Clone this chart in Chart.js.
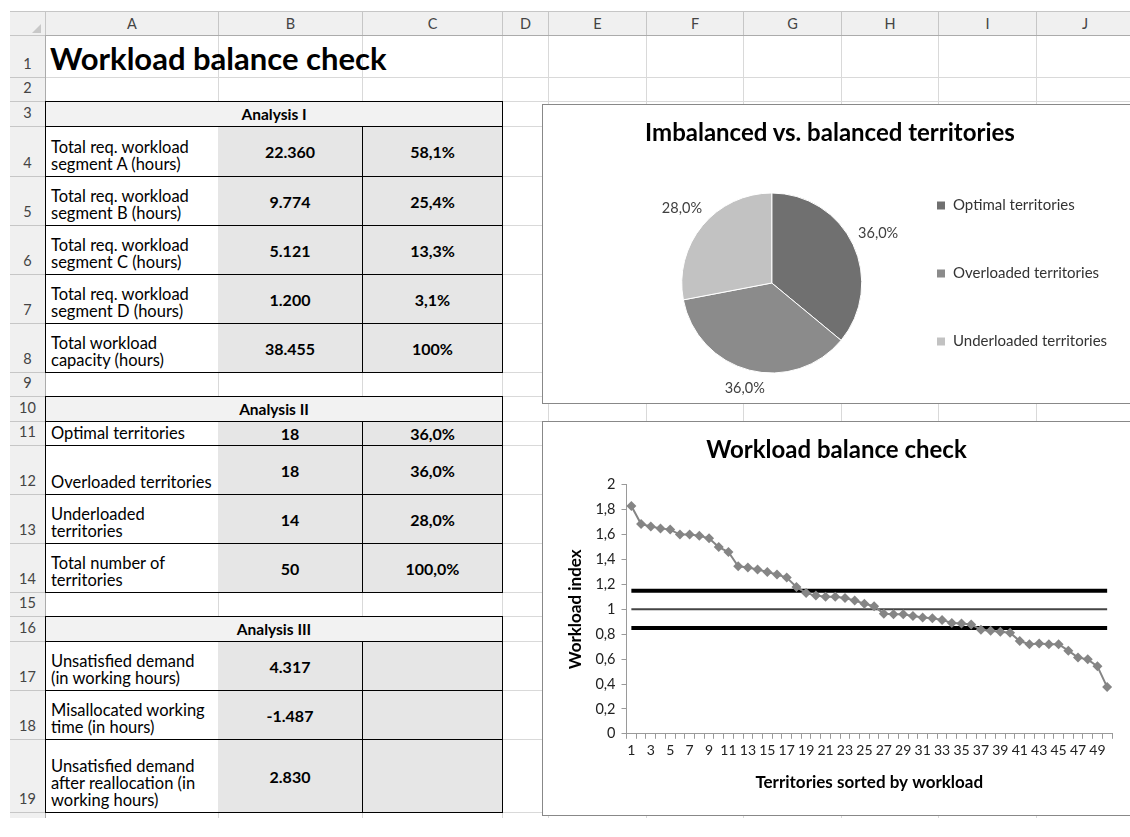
<!DOCTYPE html>
<html>
<head>
<meta charset="utf-8">
<title>Workload balance check</title>
<script src="https://cdn.jsdelivr.net/npm/chart.js@4.4.1/dist/chart.umd.min.js"></script>
<style>
  body { margin: 0; background: #fff; font-family: Lato, "Noto Sans", sans-serif; }
  #sheet { position: absolute; left: 0; top: 0; width: 1130px; height: 818px; overflow: hidden; }
  .c { position: absolute; box-sizing: border-box; white-space: nowrap; }
  .hdr { color: #444; font-size: 14.5px; display: flex; justify-content: center; }
  .txt { font-size: 16.5px; line-height: 17px; padding: 0 0 3px 5px; display: flex; flex-direction: column; justify-content: flex-end; background: #fff; }
  .val { font-size: 16px; font-weight: bold; display: flex; align-items: center; justify-content: center; background: #e6e6e6; }
  .sec { font-size: 15.5px; font-weight: bold; display: flex; align-items: center; justify-content: center; background: #f2f2f2; border: 1px solid #000; }
  .chartbox { position: absolute; background: #fff; border: 1px solid #888; box-sizing: border-box; }
</style>
</head>
<body>
<div id="sheet"></div>
<script>
// chart data
const pieLabels = ["Optimal territories", "Overloaded territories", "Underloaded territories"];
const pieCounts = [18, 18, 14];
const pieColors = ["#707070", "#8b8b8b", "#c2c2c2"];

const territories = ["1","2","3","4","5","6","7","8","9","10","11","12","13","14","15","16","17","18","19","20",
  "21","22","23","24","25","26","27","28","29","30","31","32","33","34","35","36","37","38","39","40",
  "41","42","43","44","45","46","47","48","49","50"];
const workloadIndex = [1.83, 1.685, 1.665, 1.65, 1.64, 1.60, 1.60, 1.59, 1.57, 1.50,
  1.46, 1.345, 1.335, 1.32, 1.30, 1.28, 1.255, 1.18, 1.13, 1.11,
  1.10, 1.10, 1.09, 1.07, 1.045, 1.025, 0.965, 0.96, 0.96, 0.947,
  0.935, 0.928, 0.915, 0.89, 0.885, 0.878, 0.835, 0.827, 0.82, 0.812,
  0.745, 0.72, 0.725, 0.72, 0.72, 0.668, 0.613, 0.598, 0.542, 0.375];
const upperLimit = 1.15;
const target = 1;
const lowerLimit = 0.85;

// sheet contents
const sheetTitle = "Workload balance check";
const sections = [[3, "Analysis I"], [10, "Analysis II"], [16, "Analysis III"]];
const tableRows = [
  [4, "Total req. workload<br>segment A (hours)", "22.360", "58,1%"],
  [5, "Total req. workload<br>segment B (hours)", "9.774", "25,4%"],
  [6, "Total req. workload<br>segment C (hours)", "5.121", "13,3%"],
  [7, "Total req. workload<br>segment D (hours)", "1.200", "3,1%"],
  [8, "Total workload<br>capacity (hours)", "38.455", "100%"],
  [11, "Optimal territories", "18", "36,0%"],
  [12, "Overloaded territories", "18", "36,0%"],
  [13, "Underloaded<br>territories", "14", "28,0%"],
  [14, "Total number of<br>territories", "50", "100,0%"],
  [17, "Unsatisfied demand<br>(in working hours)", "4.317", ""],
  [18, "Misallocated working<br>time (in hours)", "-1.487", ""],
  [19, "Unsatisfied demand<br>after reallocation (in<br>working hours)", "2.830", ""]
];

const colNames = ["A", "B", "C", "D", "E", "F", "G", "H", "I", "J"];
const colEdges = [10, 45, 218, 362, 502, 548, 646, 743, 841, 938, 1036, 1133];
const rowEdges = [11, 35, 77, 101, 126, 176, 225, 274, 323, 372, 396, 421, 445, 494, 543, 592, 616, 641, 690, 739, 812, 840];

const sheet = document.getElementById("sheet");
function box(x, y, w, h, cls, css, html) {
  const d = document.createElement("div");
  d.className = "c " + (cls || "");
  Object.assign(d.style, { left: x + "px", top: y + "px", width: w + "px", height: h + "px" }, css || {});
  if (html !== undefined) d.innerHTML = html;
  sheet.appendChild(d);
  return d;
}

// gridlines
for (let i = 1; i < colEdges.length; i++) box(colEdges[i], rowEdges[1], 1, 837, "", { background: "#d9d9d9" });
for (let r = 2; r < rowEdges.length; r++) box(colEdges[1], rowEdges[r], 1130, 1, "", { background: "#d9d9d9" });

// column headers
box(colEdges[0], rowEdges[0], 1130, rowEdges[1] - rowEdges[0], "", { background: "#f0f0f0" });
colNames.forEach((n, i) => {
  box(colEdges[i + 1], rowEdges[0], colEdges[i + 2] - colEdges[i + 1], rowEdges[1] - rowEdges[0], "hdr",
    { alignItems: "center", borderLeft: "1px solid #c6c6c6" }, n);
});
box(colEdges[0], rowEdges[0], 1130, 1, "", { background: "#c6c6c6" });
box(colEdges[0], rowEdges[1], 1130, 1, "", { background: "#ababab" });
box(colEdges[1] - 13, rowEdges[1] - 11, 0, 0, "", { borderLeft: "9px solid transparent", borderBottom: "9px solid #c8c8c8" });

// row headers
box(colEdges[0], rowEdges[1], colEdges[1] - colEdges[0], 837, "", { background: "#f0f0f0" });
for (let r = 1; r < rowEdges.length - 1; r++) {
  box(colEdges[0], rowEdges[r], colEdges[1] - colEdges[0], rowEdges[r + 1] - rowEdges[r], "hdr",
    { alignItems: "flex-end", paddingBottom: "5px", borderTop: "1px solid #c6c6c6" }, String(r));
}
box(colEdges[1], rowEdges[1], 1, 837, "", { background: "#ababab" });

// title row
box(colEdges[1] + 5, rowEdges[1], 450, rowEdges[2] - rowEdges[1], "",
  { fontSize: "31px", fontWeight: "bold", display: "flex", alignItems: "flex-end", paddingBottom: "0" }, sheetTitle);

// tables
const tblLeft = colEdges[1], tblRight = colEdges[4];
sections.forEach(([r, t]) => {
  box(tblLeft, rowEdges[r], tblRight - tblLeft + 1, rowEdges[r + 1] - rowEdges[r] + 1, "sec", {}, t);
});
tableRows.forEach(([r, label, v1, v2]) => {
  const y = rowEdges[r], h = rowEdges[r + 1] - rowEdges[r] + 1;
  box(colEdges[1], y, colEdges[2] - colEdges[1], h, "txt",
    { borderLeft: "1px solid #000", borderTop: "1px solid #000", borderBottom: "1px solid #000" }, "<div>" + label + "</div>");
  box(colEdges[2], y, colEdges[3] - colEdges[2] + 1, h, "val",
    { borderTop: "1px solid #000", borderBottom: "1px solid #000", borderRight: "1px solid #000" }, v1);
  box(colEdges[3], y, colEdges[4] - colEdges[3] + 1, h, "val",
    { border: "1px solid #000" }, v2);
});

// chart boxes
function chartBox(x, y, w, h) {
  const d = document.createElement("div");
  d.className = "chartbox";
  Object.assign(d.style, { left: x + "px", top: y + "px", width: w + "px", height: h + "px" });
  const cv = document.createElement("canvas");
  d.appendChild(cv);
  sheet.appendChild(d);
  return [d, cv];
}

// pie chart: canvas is taller than its box so the legend has room for three rows
const [pieBox, pieCanvas] = chartBox(542, 104, 592, 300);
pieCanvas.width = 590; pieCanvas.height = 380;
Object.assign(pieCanvas.style, { position: "absolute", left: "0", top: "-40px" });
const pieTitle = document.createElement("div");
Object.assign(pieTitle.style, { position: "absolute", left: "0", top: "12px", width: "574px", textAlign: "center",
  fontSize: "24px", lineHeight: "29px", fontWeight: "bold" });
pieTitle.textContent = "Imbalanced vs. balanced territories";
pieBox.appendChild(pieTitle);

const pieTotal = pieCounts.reduce((a, b) => a + b, 0);
const pieLabelPlugin = {
  id: "pieLabels",
  afterDatasetsDraw(chart) {
    const ctx = chart.ctx;
    ctx.save();
    ctx.font = "14.5px Lato";
    ctx.fillStyle = "#404040";
    ctx.textBaseline = "middle";
    ctx.textAlign = "center";
    chart.getDatasetMeta(0).data.forEach((arc, i) => {
      const p = arc.getProps(["x", "y", "startAngle", "endAngle", "outerRadius"], true);
      const txt = (pieCounts[i] / pieTotal * 100).toFixed(1).replace(".", ",") + "%";
      const mid = (p.startAngle + p.endAngle) / 2;
      const c = Math.cos(mid), s = Math.sin(mid);
      const w = ctx.measureText(txt).width;
      const r = p.outerRadius + 6 + Math.abs(c) * w / 2 + Math.abs(s) * 8;
      ctx.fillText(txt, p.x + c * r, p.y + s * r);
    });
    ctx.restore();
  }
};

new Chart(pieCanvas, {
  type: "pie",
  data: {
    labels: pieLabels,
    datasets: [{ data: pieCounts, backgroundColor: pieColors, borderColor: "#ffffff", borderWidth: 1, radius: 90 }]
  },
  options: {
    responsive: false,
    animation: false,
    layout: { padding: { left: 117, right: 26, top: 80, bottom: 24 } },
    plugins: {
      legend: {
        position: "right",
        align: "start",
        labels: { boxWidth: 9, boxHeight: 9, padding: 53, color: "#333", font: { family: "Lato", size: 15 } }
      },
      tooltip: { enabled: false }
    }
  },
  plugins: [pieLabelPlugin]
});

const [lineBox, lineCanvas] = chartBox(542, 421, 592, 395);
lineCanvas.width = 590; lineCanvas.height = 393;

const fmt = (v) => String(Math.round(v * 10) / 10).replace(".", ",");
const axisGrid = { drawOnChartArea: false, drawTicks: true, tickLength: 5, color: "#9a9a9a" };

new Chart(lineCanvas, {
  type: "line",
  data: {
    labels: territories,
    datasets: [
      { label: "Workload index", data: workloadIndex, borderColor: "#858585", backgroundColor: "#858585",
        borderWidth: 2, pointStyle: "rectRot", pointRadius: 5, pointBorderWidth: 0, tension: 0 },
      { label: "Upper limit", data: territories.map(() => upperLimit), borderColor: "#000", borderWidth: 4, pointRadius: 0 },
      { label: "Target", data: territories.map(() => target), borderColor: "#444", borderWidth: 2, pointRadius: 0 },
      { label: "Lower limit", data: territories.map(() => lowerLimit), borderColor: "#000", borderWidth: 4, pointRadius: 0 }
    ]
  },
  options: {
    responsive: false,
    animation: false,
    layout: { padding: { left: 18, right: 21, bottom: 18 } },
    plugins: {
      legend: { display: false },
      tooltip: { enabled: false },
      title: { display: true, text: "Workload balance check", color: "#000",
        font: { family: "Lato", size: 24, weight: "bold" }, padding: { top: 14, bottom: 20 } }
    },
    scales: {
      x: {
        offset: true,
        grid: Object.assign({ offset: true }, axisGrid),
        border: { color: "#9a9a9a" },
        ticks: { autoSkip: false, maxRotation: 0, padding: 3, color: "#222", font: { family: "Lato", size: 14 },
          callback: (v, i) => (i % 2 === 0 ? territories[i] : "") },
        title: { display: true, text: "Territories sorted by workload", color: "#000",
          font: { family: "Lato", size: 17, weight: "bold" }, padding: { top: 11 } }
      },
      y: {
        min: 0, max: 2,
        grid: axisGrid,
        border: { color: "#9a9a9a" },
        ticks: { stepSize: 0.2, padding: 6, color: "#222", font: { family: "Lato", size: 14.5 }, callback: fmt },
        title: { display: true, text: "Workload index", color: "#000",
          font: { family: "Lato", size: 17, weight: "bold" }, padding: { bottom: 4 } }
      }
    }
  }
});
</script>
</body>
</html>
